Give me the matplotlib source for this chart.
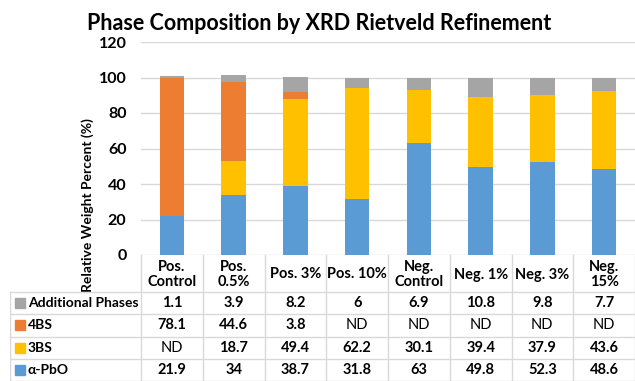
import matplotlib.pyplot as plt
import numpy as np

plt.rcParams['font.family'] = ['Lato', 'DejaVu Sans']

cats = ['Pos.\nControl', 'Pos.\n0.5%', 'Pos. 3%', 'Pos. 10%',
        'Neg.\nControl', 'Neg. 1%', 'Neg. 3%', 'Neg.\n15%']
# None = ND (not detected)
pbo = [21.9, 34, 38.7, 31.8, 63, 49.8, 52.3, 48.6]
bs3 = [None, 18.7, 49.4, 62.2, 30.1, 39.4, 37.9, 43.6]
bs4 = [78.1, 44.6, 3.8, None, None, None, None, None]
extra = [1.1, 3.9, 8.2, 6, 6.9, 10.8, 9.8, 7.7]

names = ['Additional Phases', '4BS', '3BS', 'α-PbO']
colors = ['#A5A5A5', '#ED7D31', '#FFC000', '#5B9BD5']
grid_c = '#D9D9D9'

W, H = 635, 381
fig = plt.figure(figsize=(W/100, H/100), dpi=100)
ax = fig.add_axes([141/W, 1-255/H, 494/W, 213/H])

x = np.arange(len(cats))
def num(v):
    return np.array([0 if a is None else a for a in v], dtype=float)

bottom = np.zeros(len(cats))
for vals, c in zip([pbo, bs3, bs4, extra], colors[::-1]):
    v = num(vals)
    ax.bar(x, v, 0.4, bottom=bottom, color=c, zorder=3)
    bottom += v

ax.set_xlim(-0.5, len(cats)-0.5)
ax.set_ylim(0, 120)
ticks = list(range(0, 121, 20))
ax.set_yticks(ticks, labels=[str(t) for t in ticks], fontweight='bold', fontsize=11.5)
ax.set_xticks([])
ax.yaxis.grid(True, color=grid_c, lw=1, zorder=0)
for s in ax.spines.values():
    s.set_visible(False)
ax.tick_params(axis='y', length=0, pad=10.5)
ax.set_ylabel('Relative Weight Percent (%)', fontsize=10, fontweight='bold')
ax.yaxis.set_label_coords(-0.095, 0.235)
ax.set_title('Phase Composition by XRD Rietveld Refinement', fontsize=15.5,
             fontweight='bold', x=0.36, pad=9)

# data table below the bars, drawn in its own axes (x in category units, y in px rows)
def fmt(v):
    return 'ND' if v is None else '%g' % v

colw = 494 / len(cats)
lab_left = -0.5 - 131/colw
tax = fig.add_axes([10/W, 0, 625/W, 126/H])
tax.set_xlim(lab_left, len(cats)-0.5)
tax.set_ylim(126, 0)
tax.axis('off')

head_h, row_h = 37, 22.25
ys = [head_h + row_h*i for i in range(5)]
for y in ys:
    tax.plot([lab_left, len(cats)-0.5], [y, y], color=grid_c, lw=1, clip_on=False)
tax.plot([lab_left, lab_left], [head_h, 126], color=grid_c, lw=1)
for xe in np.arange(-0.5, len(cats)):
    tax.plot([xe, xe], [0, 126], color=grid_c, lw=1, clip_on=False)

for i, cat in enumerate(cats):
    tax.text(i, head_h/2 + 1, cat, ha='center', va='center', fontsize=10.5,
             fontweight='bold', linespacing=1.1)

rows = [extra, bs4, bs3, pbo]
for r, (name, vals, c) in enumerate(zip(names, rows, colors)):
    yc = head_h + row_h*(r + 0.5)
    tax.plot([lab_left + 10/colw], [yc], marker='s', ms=6.5, color=c, ls='none')
    tax.text(lab_left + 18/colw, yc, name, ha='left', va='center', fontsize=10,
             fontweight='bold')
    for i, v in enumerate(vals):
        tax.text(i, yc, fmt(v), ha='center', va='center', fontsize=10.5,
                 fontweight='normal' if v is None else 'bold')

fig.savefig('out.png', dpi=100)
